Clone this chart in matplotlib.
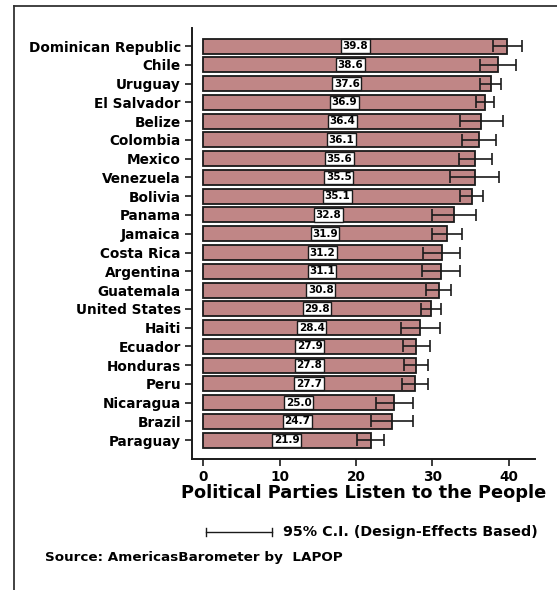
import matplotlib.pyplot as plt
from matplotlib.lines import Line2D
import numpy as np

plt.rcParams['font.family'] = ['DejaVu Sans']
plt.rcParams['font.weight'] = 'bold'

countries = ['Dominican Republic', 'Chile', 'Uruguay', 'El Salvador', 'Belize',
             'Colombia', 'Mexico', 'Venezuela', 'Bolivia', 'Panama', 'Jamaica',
             'Costa Rica', 'Argentina', 'Guatemala', 'United States', 'Haiti',
             'Ecuador', 'Honduras', 'Peru', 'Nicaragua', 'Brazil', 'Paraguay']
values = [39.8, 38.6, 37.6, 36.9, 36.4, 36.1, 35.6, 35.5, 35.1, 32.8, 31.9,
          31.2, 31.1, 30.8, 29.8, 28.4, 27.9, 27.8, 27.7, 25.0, 24.7, 21.9]
# half width of the 95% confidence interval
ci = [1.85, 2.35, 1.4, 1.2, 2.85, 2.25, 2.2, 3.15, 1.5, 2.85, 1.95,
      2.45, 2.5, 1.65, 1.3, 2.55, 1.8, 1.55, 1.65, 2.4, 2.8, 1.75]
xticks = [0, 10, 20, 30, 40]

W, H = 557, 590
fig = plt.figure(figsize=(W / 100, H / 100), dpi=100)
ax = fig.add_axes([192 / W, 1 - 459 / H, (535 - 192) / W, (459 - 28) / H])

y = np.arange(len(countries))
ax.barh(y, values, height=0.8, color='#c08686', edgecolor='#1a1a1a', linewidth=1.3)
ax.errorbar(values, y, xerr=ci, fmt='none', ecolor='#1a1a1a', elinewidth=1.2,
            capsize=4, capthick=1.2)

for yi, v in zip(y, values):
    ax.text(v / 2, yi, f'{v:.1f}', ha='center', va='center', fontsize=7.5,
            fontweight='bold',
            bbox=dict(boxstyle='square,pad=0.15', facecolor='white',
                      edgecolor='#1a1a1a', linewidth=1.0))

ax.set_ylim(22.0, -0.96)
ax.set_xlim(-1.44, 43.4)
ax.set_yticks(y)
ax.set_yticklabels(countries, fontsize=9.8, fontweight='bold')
ax.set_xticks(xticks)
ax.set_xticklabels([str(t) for t in xticks], fontsize=9.8, fontweight='bold')
ax.tick_params(axis='both', length=5, width=1.2, color='#1a1a1a', pad=3)
ax.set_xlabel('Political Parties Listen to the People', fontsize=12.8,
              fontweight='bold', labelpad=0)
for s in ['top', 'right']:
    ax.spines[s].set_visible(False)
for s in ['left', 'bottom']:
    ax.spines[s].set_linewidth(1.4)
    ax.spines[s].set_color('#1a1a1a')

# outer frame, left and top edges only
fig.add_artist(Line2D([14 / W, 14 / W], [0, 1 - 6 / H], color='#333333', lw=1.3,
                      transform=fig.transFigure))
fig.add_artist(Line2D([14 / W, 1], [1 - 6 / H, 1 - 6 / H], color='#333333', lw=1.3,
                      transform=fig.transFigure))

# confidence interval key
ly = 1 - 532 / H
fig.add_artist(Line2D([206 / W, 272 / W], [ly, ly], color='#1a1a1a', lw=1.0,
                      transform=fig.transFigure))
for lx in (206 / W, 272 / W):
    fig.add_artist(Line2D([lx, lx], [ly - 4 / H, ly + 4 / H], color='#1a1a1a',
                          lw=1.0, transform=fig.transFigure))
fig.text(283 / W, ly, '95% C.I. (Design-Effects Based)', fontsize=10.3,
         fontweight='bold', va='center', ha='left')
fig.text(45 / W, 1 - 558 / H, 'Source: AmericasBarometer by  LAPOP', fontsize=9.7,
         fontweight='bold', va='center', ha='left')

fig.savefig('out.png', dpi=100)
